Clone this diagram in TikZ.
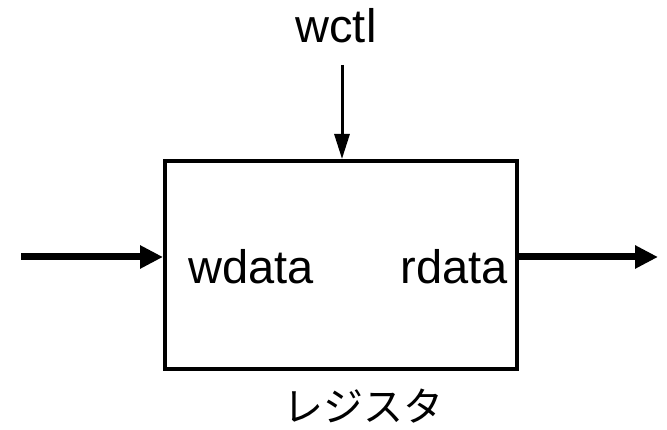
\documentclass[tikz,border=0pt]{standalone}
\usepackage{fontspec}
\setmainfont{Liberation Sans}
\newfontfamily\jpfont{Noto Sans CJK JP}
\usetikzlibrary{arrows.meta,calc}
\begin{document}
\begin{tikzpicture}[x=1pt,y=1pt,
  lbl/.style={inner sep=0pt,font=\fontsize{47}{56}\selectfont},
  jplbl/.style={inner sep=0pt,font=\jpfont\fontsize{40}{48}\selectfont},
  regbox/.style={draw,line width=4pt,minimum width=352pt,minimum height=208pt,inner sep=0pt},
  thickarrow/.style={line width=7pt,-{Triangle[length=23pt,width=22pt]}},
  thinarrow/.style={line width=3pt,-{Triangle[length=25pt,width=15pt]}}]
\useasboundingbox (0,0) rectangle (667,430);
\node[regbox] (reg) at (341,165) {};
\coordinate (inL) at (21,173);
\coordinate (outR) at (658,173);
\coordinate (ctl) at (342,365);
\draw[thickarrow] (inL) -- (reg.west |- inL);
\draw[thickarrow] (reg.east |- outR) -- (outR);
\draw[thinarrow] (ctl) -- (reg.north -| ctl);
\node[lbl,anchor=base] (wctl) at (336,387) {wctl};
\node[lbl,anchor=base west] (wdata) at (188,146) {wdata};
\node[lbl,anchor=base east] (rdata) at (508,146) {rdata};
\node[jplbl,anchor=base] (name) at (363,8) {レジスタ};
\end{tikzpicture}
\end{document}
